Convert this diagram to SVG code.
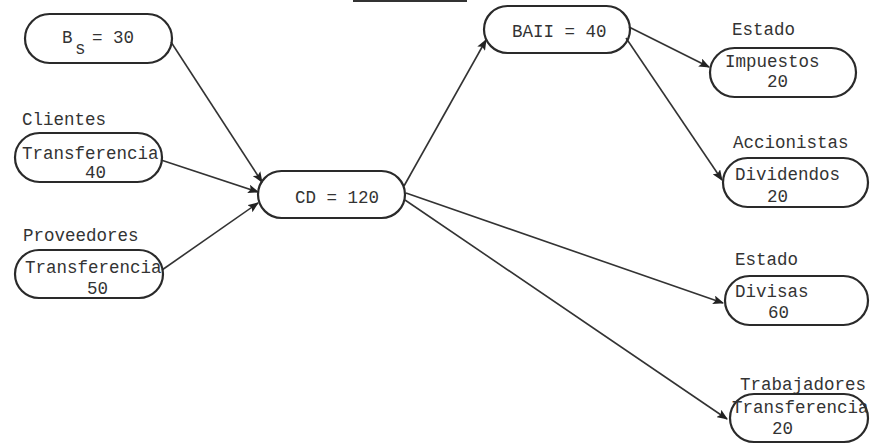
<svg xmlns="http://www.w3.org/2000/svg" width="870" height="444" viewBox="0 0 870 444">
<style>
.n{fill:none;stroke:#2a2a2a;stroke-width:2.2}
.t{font-family:"Liberation Mono","Courier New",monospace;font-size:17.5px;fill:#333}
.c{fill:none;stroke:#333;stroke-width:1.6}
</style>
<defs>
<marker id="ah" viewBox="0 0 10 8" refX="9" refY="4" markerWidth="11" markerHeight="9" markerUnits="userSpaceOnUse" orient="auto">
<path d="M0,0 L10,4 L0,8 L2,4 z" fill="#222"/>
</marker>
</defs>
<rect width="870" height="444" fill="#fff"/>
<line x1="353" y1="1" x2="467" y2="1" stroke="#333" stroke-width="2"/>
<g id="connectors">
<line class="c" x1="171" y1="42" x2="262" y2="182" marker-end="url(#ah)"/>
<line class="c" x1="161" y1="160" x2="258" y2="192" marker-end="url(#ah)"/>
<line class="c" x1="162" y1="270" x2="258" y2="203" marker-end="url(#ah)"/>
<line class="c" x1="404" y1="186" x2="486" y2="40" marker-end="url(#ah)"/>
<line class="c" x1="629" y1="27" x2="709" y2="67" marker-end="url(#ah)"/>
<line class="c" x1="626" y1="38" x2="722" y2="180" marker-end="url(#ah)"/>
<line class="c" x1="406" y1="193" x2="723" y2="303" marker-end="url(#ah)"/>
<line class="c" x1="405" y1="200" x2="727" y2="419" marker-end="url(#ah)"/>
</g>
<g id="bs">
<rect class="n" x="25" y="14" width="147" height="49" rx="24.5"/>
<text class="t" x="62" y="43">B<tspan x="75" y="54">s</tspan><tspan x="92" y="43">= 30</tspan></text>
</g>
<g id="clientes">
<text class="t" x="22" y="125">Clientes</text>
<rect class="n" x="15" y="133" width="147" height="49" rx="24.5"/>
<text class="t" x="22" y="159">Transferencia</text>
<text class="t" x="85" y="178">40</text>
</g>
<g id="proveedores">
<text class="t" x="23" y="241">Proveedores</text>
<rect class="n" x="15" y="250" width="148" height="48" rx="24"/>
<text class="t" x="25" y="273">Transferencia</text>
<text class="t" x="87" y="294">50</text>
</g>
<g id="cd">
<rect class="n" x="258" y="171" width="147" height="47" rx="23.5"/>
<text class="t" x="295" y="203">CD = 120</text>
</g>
<g id="baii">
<rect class="n" x="484" y="6" width="146" height="47" rx="23.5"/>
<text class="t" x="512" y="37">BAII = 40</text>
</g>
<g id="impuestos">
<text class="t" x="732" y="35">Estado</text>
<rect class="n" x="710" y="48" width="146" height="49" rx="24.5"/>
<text class="t" x="725" y="67">Impuestos</text>
<text class="t" x="767" y="87">20</text>
</g>
<g id="dividendos">
<text class="t" x="733" y="148">Accionistas</text>
<rect class="n" x="723" y="158" width="145" height="49" rx="24.5"/>
<text class="t" x="735" y="180">Dividendos</text>
<text class="t" x="767" y="202">20</text>
</g>
<g id="divisas">
<text class="t" x="735" y="265">Estado</text>
<rect class="n" x="725" y="276" width="143" height="49" rx="24.5"/>
<text class="t" x="735" y="297">Divisas</text>
<text class="t" x="768" y="318">60</text>
</g>
<g id="trabajadores">
<text class="t" x="740" y="390">Trabajadores</text>
<rect class="n" x="730" y="394" width="138" height="48" rx="24"/>
<text class="t" x="732" y="413">Transferencia</text>
<text class="t" x="772" y="434">20</text>
</g>
</svg>
